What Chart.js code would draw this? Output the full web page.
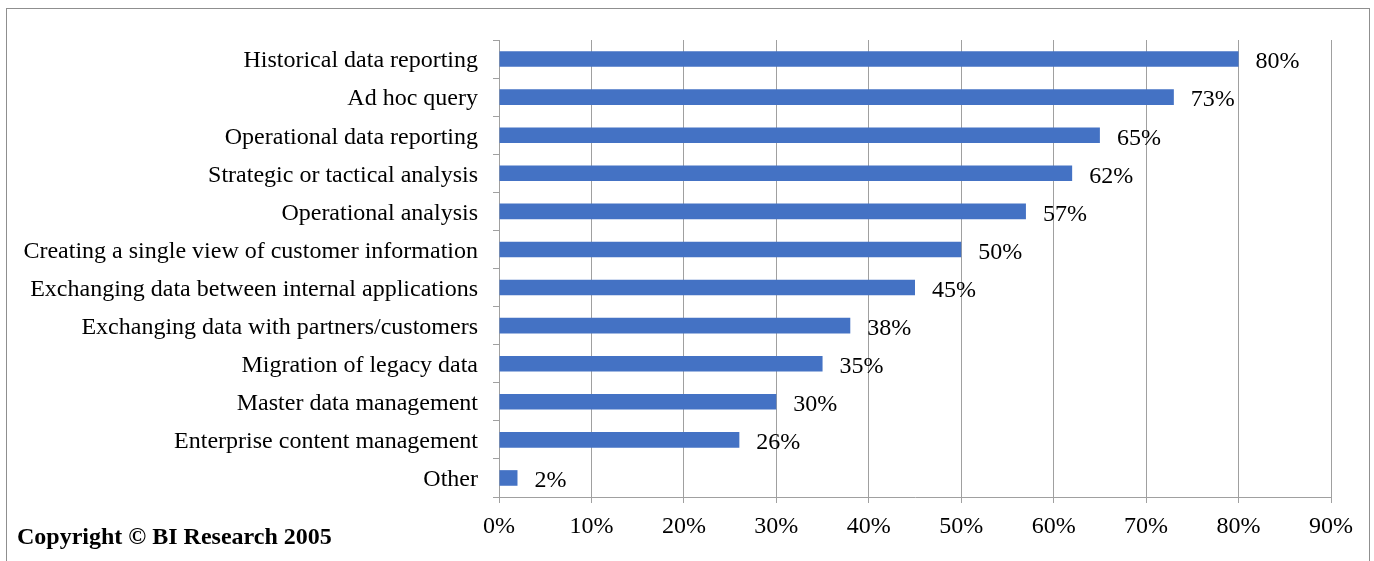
<!DOCTYPE html>
<html>
<head>
<meta charset="utf-8">
<script src="https://cdn.jsdelivr.net/npm/chart.js@4"></script>
<style>
  html, body { margin: 0; padding: 0; background: #fff; }
  #wrap { position: relative; width: 1374px; height: 561px; }
</style>
</head>
<body>
<div id="wrap"><canvas id="usageChart" width="1374" height="561"></canvas></div>
<script>
const categories = [
    'Historical data reporting',
    'Ad hoc query',
    'Operational data reporting',
    'Strategic or tactical analysis',
    'Operational analysis',
    'Creating a single view of customer information',
    'Exchanging data between internal applications',
    'Exchanging data with partners/customers',
    'Migration of legacy data',
    'Master data management',
    'Enterprise content management',
    'Other'
]
const shares = [80, 73, 65, 62, 57, 50, 45, 38, 35, 30, 26, 2]
const xTicks = [0, 10, 20, 30, 40, 50, 60, 70, 80, 90]
const copyright = 'Copyright \u00A9 BI Research 2005'

const serif = "'Liberation Serif', 'Times New Roman', serif"
const gridColor = '#a0a0a0'

// frame, copyright and value labels
const extras = {
    id: 'extras',
    beforeDraw: (chart) => {
        const ctx = chart.ctx
        ctx.save()
        ctx.strokeStyle = '#8f8f8f'
        ctx.lineWidth = 1
        ctx.strokeRect(6.5, 8.5, 1363, 600)
        ctx.restore()
    },
    afterDatasetsDraw: (chart) => {
        const ctx = chart.ctx
        const meta = chart.getDatasetMeta(0)
        ctx.save()
        ctx.font = '24px ' + serif
        ctx.fillStyle = '#000'
        ctx.textAlign = 'left'
        ctx.textBaseline = 'middle'
        meta.data.forEach((bar, i) => {
            ctx.fillText(shares[i] + '%', bar.x + 17, bar.y + 3)
        })
        ctx.font = 'bold 24px ' + serif
        ctx.fillText(copyright, 17, 538)
        ctx.restore()
    }
}

const config = {
    type: 'bar',
    data: {
        labels: categories,
        datasets: [{
            data: shares,
            backgroundColor: '#4472C4',
            borderWidth: 0,
            barPercentage: 0.41,
            categoryPercentage: 1
        }]
    },
    options: {
        indexAxis: 'y',
        responsive: false,
        animation: false,
        layout: {
            padding: { top: 40, right: 43, bottom: 0, left: 0 }
        },
        scales: {
            x: {
                min: 0,
                max: 90,
                afterBuildTicks: (scale) => {
                    scale.ticks = xTicks.map(v => ({ value: v }))
                },
                afterFit: (scale) => { scale.height = 64 },
                grid: {
                    color: gridColor,
                    tickLength: 6
                },
                border: { color: gridColor },
                ticks: {
                    color: '#000',
                    padding: 9,
                    maxRotation: 0,
                    font: { family: serif, size: 24 },
                    callback: (value) => value + '%'
                }
            },
            y: {
                afterFit: (scale) => { scale.width = 499 },
                grid: {
                    drawOnChartArea: false,
                    color: gridColor,
                    tickLength: 6
                },
                border: { color: gridColor },
                ticks: {
                    color: '#000',
                    padding: 15,
                    labelOffset: 2,
                    font: { family: serif, size: 24 }
                }
            }
        },
        plugins: {
            legend: { display: false },
            tooltip: { enabled: false }
        }
    },
    plugins: [extras]
}

const ctx = document.getElementById('usageChart').getContext('2d')
new Chart(ctx, config)
</script>
</body>
</html>
